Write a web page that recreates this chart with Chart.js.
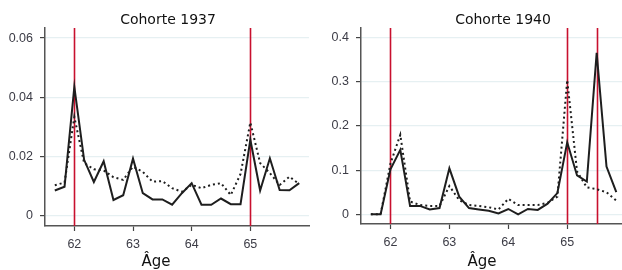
<!DOCTYPE html>
<html>
<head>
<meta charset="utf-8">
<script src="https://cdn.jsdelivr.net/npm/chart.js@4"></script>
<style>
	body { margin: 0; background: #fff; }
	.wrap { position: relative; width: 622px; height: 270px; }
	canvas { position: absolute; top: 0; }
</style>
</head>
<body>
<div class="wrap">
	<canvas id="c1937" width="311" height="270" style="left:0"></canvas>
	<canvas id="c1940" width="311" height="270" style="left:311px"></canvas>
</div>
<script>
// --- Data ---
const ages = [61.667, 61.833, 62, 62.167, 62.333, 62.5, 62.667, 62.833, 63, 63.167, 63.333, 63.5, 63.667,
	63.833, 64, 64.167, 64.333, 64.5, 64.667, 64.833, 65, 65.167, 65.333, 65.5, 65.667, 65.833];
const xTicks = [62, 63, 64, 65];

const solid1937 = [0.0084, 0.0097, 0.0435, 0.0188, 0.0113, 0.0183, 0.0052, 0.0068, 0.0192, 0.0075, 0.0054, 0.0054, 0.0036,
	0.0075, 0.0109, 0.0036, 0.0036, 0.0057, 0.0038, 0.0038, 0.0256, 0.0084, 0.0193, 0.0086, 0.0085, 0.0109];
const dotted1937 = [0.0102, 0.0111, 0.0333, 0.0177, 0.0156, 0.0152, 0.0129, 0.0120, 0.0165, 0.0147, 0.0114, 0.0116, 0.0092,
	0.0080, 0.0103, 0.0092, 0.0103, 0.0109, 0.0069, 0.0140, 0.0314, 0.0177, 0.0143, 0.0103, 0.0131, 0.0106];
const yTicks1937 = [0, 0.02, 0.04, 0.06];
const yLabels1937 = ["0", "0.02", "0.04", "0.06"];
const refs1937 = [62, 65];

const solid1940 = [0, 0, 0.102, 0.146, 0.019, 0.019, 0.011, 0.014, 0.104, 0.040, 0.014, 0.011, 0.008,
	0.002, 0.012, 0.0, 0.012, 0.010, 0.024, 0.048, 0.163, 0.088, 0.074, 0.366, 0.108, 0.050];
const dotted1940 = [0, 0, 0.115, 0.180, 0.029, 0.021, 0.019, 0.019, 0.064, 0.032, 0.021, 0.019, 0.016,
	0.011, 0.035, 0.021, 0.021, 0.021, 0.026, 0.040, 0.304, 0.097, 0.061, 0.057, 0.050, 0.031];
const yTicks1940 = [0, 0.1, 0.2, 0.3, 0.4];
const yLabels1940 = ["0", "0.1", "0.2", "0.3", "0.4"];
const refs1940 = [62, 65, 65.5];

// draws red reference lines, panel title and the x axis title
const panelPlugin = {
	id: "panel",
	beforeDatasetsDraw(chart, args, opts) {
		const { ctx, chartArea, scales } = chart;
		ctx.save();
		ctx.strokeStyle = "#c8102e";
		ctx.lineWidth = 1.6;
		opts.refs.forEach((v) => {
			const x = Math.round(scales.x.getPixelForValue(v)) + 0.5;
			ctx.beginPath();
			ctx.moveTo(x, chartArea.top);
			ctx.lineTo(x, chartArea.bottom);
			ctx.stroke();
		});
		ctx.restore();
	},
	afterDraw(chart, args, opts) {
		const { ctx } = chart;
		ctx.save();
		ctx.fillStyle = "#111";
		ctx.textAlign = "center";
		ctx.textBaseline = "middle";
		ctx.font = '14px "DejaVu Sans"';
		ctx.fillText(opts.title, opts.titleX, 20);
		ctx.font = '15px "DejaVu Sans"';
		ctx.fillText("Âge", opts.xTitleX, 262);
		ctx.restore();
	},
};

function makeChart(id, solid, dotted, yMin, yMax, yTicks, yLabels, xMax, yWidth, xHeight, panel) {
	const toPts = (arr) => ages.map((a, i) => ({ x: a, y: arr[i] }));
	new Chart(document.getElementById(id), {
		type: "line",
		data: {
			datasets: [
				{ data: toPts(dotted), borderColor: "#1e1e1e", borderWidth: 2, borderDash: [2, 3], pointRadius: 0, tension: 0 },
				{ data: toPts(solid), borderColor: "#1e1e1e", borderWidth: 2, pointRadius: 0, tension: 0 },
			],
		},
		options: {
			responsive: false,
			animation: false,
			devicePixelRatio: 1,
			layout: { padding: { top: 28, right: panel.padRight, left: 0, bottom: 0 } },
			plugins: { legend: { display: false }, tooltip: { enabled: false }, panel },
			scales: {
				x: {
					type: "linear",
					min: 61.5,
					max: xMax,
					afterBuildTicks: (s) => { s.ticks = xTicks.map((v) => ({ value: v })); },
					afterFit: (s) => { s.height = xHeight; },
					grid: { drawOnChartArea: false, tickLength: 5, tickColor: "#444", tickWidth: 1.2 },
					border: { color: "#555", width: 1.5 },
					ticks: { color: "#3c3c46", font: { family: "Liberation Sans", size: 12.5 }, padding: 6, maxRotation: 0 },
				},
				y: {
					min: yMin,
					max: yMax,
					afterBuildTicks: (s) => { s.ticks = yTicks.map((v) => ({ value: v })); },
					afterFit: (s) => { s.width = yWidth; },
					grid: { color: "#e6f0f2", lineWidth: 1.2, tickLength: 5, tickColor: "#444", tickWidth: 1.2 },
					border: { color: "#555", width: 1.5 },
					ticks: {
						color: "#3c3c46",
						font: { family: "Liberation Sans", size: 12.5 },
						padding: 7,
						callback: (v) => yLabels[yTicks.indexOf(v)],
					},
				},
			},
		},
		plugins: [panelPlugin],
	});
}

makeChart("c1937", solid1937, dotted1937, -0.0036, 0.0634, yTicks1937, yLabels1937, 66.0, 45, 44,
	{ refs: refs1937, title: "Cohorte 1937", titleX: 168, xTitleX: 156, padRight: 2 });
makeChart("c1940", solid1940, dotted1940, -0.022, 0.422, yTicks1940, yLabels1940, 65.93, 50, 46,
	{ refs: refs1940, title: "Cohorte 1940", titleX: 192, xTitleX: 171, padRight: 0 });
</script>
</body>
</html>
